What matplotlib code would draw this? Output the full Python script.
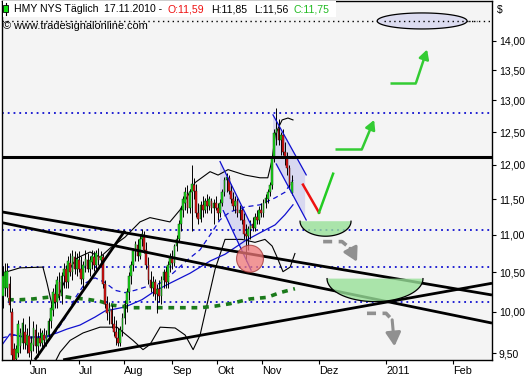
import numpy as np
import matplotlib
matplotlib.use("Agg")
import matplotlib.pyplot as plt
from matplotlib.patches import Polygon

# ---------------- data (bar index = trading day, prices in $) ----------------
opens = [10.20, 10.30, 10.30, 10.35, 10.00, 9.55, 9.43, 9.50, 9.58, 9.62,
         9.75, 9.60, 9.70, 9.52, 9.60, 9.78, 9.58, 9.68, 9.62, 9.72,
         9.64, 9.72, 9.88, 10.02, 10.22, 10.12, 10.38, 10.20, 10.45, 10.55,
         10.38, 10.62, 10.50, 10.70, 10.55, 10.66, 10.55, 10.42, 10.58, 10.66,
         10.55, 10.64, 10.70, 10.60, 10.72, 10.66, 10.70, 10.35, 10.10, 10.00,
         10.02, 9.85, 9.75, 9.68, 9.62, 9.78, 9.92, 10.10, 10.25, 10.45,
         10.60, 10.78, 10.86, 10.72, 10.95, 11.00, 10.80, 10.60, 10.40, 10.30,
         10.38, 10.22, 10.28, 10.20, 10.40, 10.50, 10.38, 10.60, 10.68, 10.62,
         10.85, 10.95, 11.15, 11.35, 11.45, 11.58, 11.38, 11.60, 11.70, 11.62,
         11.30, 11.22, 11.42, 11.35, 11.48, 11.40, 11.48, 11.38, 11.45, 11.38,
         11.30, 11.45, 11.60, 11.78, 11.80, 11.62, 11.50, 11.40, 11.48, 11.30,
         11.35, 11.20, 11.02, 10.98, 11.08, 11.15, 11.10, 11.25, 11.20, 11.35,
         11.30, 11.45, 11.50, 11.60, 11.70, 12.10, 12.48, 12.55, 12.38, 12.45,
         12.20, 12.10, 11.95, 11.59]
highs = [10.58, 10.62, 10.62, 10.45, 10.05, 9.62, 9.60, 9.90, 9.80, 9.92,
         9.85, 9.80, 9.95, 9.70, 9.88, 9.85, 9.75, 9.80, 9.78, 9.80,
         9.78, 9.92, 10.10, 10.30, 10.35, 10.45, 10.50, 10.50, 10.62, 10.60,
         10.72, 10.75, 10.80, 10.78, 10.75, 10.78, 10.72, 10.65, 10.80, 10.75,
         10.72, 10.80, 10.78, 10.80, 10.82, 10.78, 10.74, 10.40, 10.20, 10.12,
         10.08, 9.95, 9.90, 9.80, 9.82, 9.98, 10.15, 10.30, 10.50, 10.65,
         10.82, 10.92, 10.95, 11.00, 11.08, 11.06, 10.90, 10.70, 10.52, 10.45,
         10.42, 10.35, 10.40, 10.45, 10.55, 10.58, 10.65, 10.75, 10.80, 10.88,
         11.00, 11.20, 11.40, 11.55, 11.68, 11.70, 11.65, 12.00, 11.80, 11.72,
         11.45, 11.48, 11.55, 11.52, 11.58, 11.55, 11.52, 11.50, 11.55, 11.45,
         11.50, 11.65, 11.82, 11.88, 11.85, 11.72, 11.60, 11.55, 11.52, 11.42,
         11.40, 11.30, 11.15, 11.12, 11.20, 11.25, 11.30, 11.35, 11.40, 11.45,
         11.50, 11.58, 11.65, 11.75, 12.15, 12.55, 12.88, 12.70, 12.50, 12.55,
         12.35, 12.20, 12.00, 11.85]
lows = [10.05, 10.20, 10.18, 10.00, 9.40, 9.35, 9.38, 9.45, 9.50, 9.55,
        9.55, 9.50, 9.45, 9.40, 9.52, 9.50, 9.45, 9.58, 9.55, 9.60,
        9.58, 9.65, 9.80, 9.95, 10.05, 10.05, 10.15, 10.10, 10.30, 10.30,
        10.30, 10.45, 10.40, 10.48, 10.45, 10.50, 10.35, 10.30, 10.50, 10.50,
        10.45, 10.55, 10.52, 10.55, 10.60, 10.58, 10.30, 10.05, 9.90, 9.85,
        9.80, 9.70, 9.60, 9.58, 9.58, 9.70, 9.85, 10.00, 10.15, 10.35,
        10.52, 10.65, 10.65, 10.68, 10.85, 10.75, 10.55, 10.35, 10.25, 10.20,
        10.15, 9.98, 10.12, 10.10, 10.30, 10.30, 10.30, 10.50, 10.55, 10.58,
        10.78, 10.90, 11.05, 11.25, 11.35, 11.30, 11.30, 11.05, 11.50, 11.25,
        11.15, 11.18, 11.25, 11.30, 11.30, 11.35, 11.30, 11.15, 11.35, 11.20,
        11.25, 11.40, 11.55, 11.60, 11.58, 11.45, 11.35, 11.30, 11.25, 11.20,
        11.15, 10.95, 10.65, 10.80, 10.95, 11.05, 11.05, 11.15, 11.15, 11.25,
        11.25, 11.38, 11.45, 11.55, 11.65, 12.05, 12.30, 12.30, 12.15, 12.15,
        12.00, 11.85, 11.65, 11.56]
closes = [10.45, 10.50, 10.52, 10.08, 9.48, 9.42, 9.55, 9.85, 9.74, 9.86,
          9.62, 9.72, 9.50, 9.62, 9.80, 9.58, 9.68, 9.62, 9.74, 9.65,
          9.72, 9.88, 10.05, 10.25, 10.12, 10.40, 10.20, 10.45, 10.55, 10.38,
          10.65, 10.50, 10.72, 10.55, 10.68, 10.55, 10.42, 10.60, 10.68, 10.55,
          10.66, 10.72, 10.60, 10.75, 10.66, 10.72, 10.35, 10.10, 9.98, 10.05,
          9.85, 9.75, 9.68, 9.62, 9.78, 9.92, 10.10, 10.25, 10.45, 10.60,
          10.78, 10.88, 10.72, 10.95, 11.02, 10.80, 10.60, 10.40, 10.30, 10.38,
          10.22, 10.28, 10.20, 10.40, 10.50, 10.38, 10.60, 10.70, 10.62, 10.85,
          10.95, 11.15, 11.35, 11.50, 11.60, 11.38, 11.60, 11.72, 11.62, 11.30,
          11.22, 11.42, 11.35, 11.48, 11.40, 11.50, 11.38, 11.45, 11.38, 11.30,
          11.45, 11.60, 11.78, 11.82, 11.62, 11.50, 11.40, 11.48, 11.30, 11.35,
          11.20, 11.02, 10.98, 11.08, 11.15, 11.10, 11.25, 11.20, 11.35, 11.30,
          11.45, 11.52, 11.60, 11.70, 12.10, 12.48, 12.55, 12.38, 12.45, 12.20,
          12.10, 11.95, 11.70, 11.75]

# indicator lines: (bar index, price)
bb_upper_x = [-0.5, 7.8, 18.4, 20.3, 22.6, 24.9, 30.9, 34.1, 40.1, 44.7, 49.3, 56.2, 63.1, 67.7,
              76.9, 81.6, 85.3, 88.5, 95.4, 99.1, 103.7, 111.5, 118.4, 122, 124, 125.4, 128.6, 131.3, 133.6]
bb_upper_p = [10.49, 10.56, 10.57, 10.36, 10.08, 10.15, 10.56, 10.69, 10.77, 10.70, 10.82, 10.97, 11.18, 11.24,
              11.18, 11.35, 11.56, 11.74, 11.90, 11.85, 11.93, 11.85, 11.81, 11.81, 12.08, 12.46, 12.69, 12.72, 12.69]
bb_lower_x = [21.7, 26.3, 30.9, 36.9, 44.7, 52.5, 59.9, 64.5, 67.7, 72.4, 79.3, 83.9, 87.6, 90.8,
              94.5, 97.7, 102.3, 110.1, 116.1, 120.7, 124, 126.3, 129, 132.3, 134.5]
bb_lower_p = [9.28, 9.51, 9.65, 9.74, 9.81, 9.81, 9.65, 9.54, 9.60, 9.81, 9.80, 9.715, 9.54, 9.715,
              10.15, 10.54, 10.94, 10.94, 10.90, 10.94, 10.85, 10.70, 10.51, 10.57, 10.75]
bb_mid_x = [-0.5, 5.5, 12.4, 19.4, 24, 28.6, 33.2, 37.8, 42.4, 47, 51.6, 56.2, 60.8, 65.4, 70,
            72.4, 78.3, 84.8, 90.8, 95.4, 100, 104.6, 111.5, 118.4, 125.4, 129.9, 133.6]
bb_mid_p = [9.68, 9.715, 9.68, 9.68, 9.74, 9.92, 10.17, 10.36, 10.43, 10.37, 10.27, 10.24, 10.27, 10.31, 10.34,
            10.36, 10.49, 10.66, 10.80, 11.00, 11.21, 11.32, 11.39, 11.42, 11.52, 11.60, 11.78]
ma50_x = [-0.5, 3.2, 9.2, 15.7, 20.3, 24.9, 29.5, 35.5, 42.4, 47, 56.2, 64, 70, 76.9, 86.2,
          95.4, 102.3, 111.5, 118.4, 125.4, 129.9, 133.6]
ma50_p = [9.595, 9.727, 9.691, 9.691, 9.703, 9.740, 9.787, 9.836, 9.934, 10.009, 10.059, 10.15, 10.26,
          10.36, 10.49, 10.65, 10.74, 10.92, 11.03, 11.14, 11.28, 11.42]
ma200_x = [2.3, 7.8, 13.8, 20.3, 26.3, 32.3, 37.8, 44.7, 50.7, 59.9, 72.4, 84.8, 90.8, 97.7,
           104.6, 113.8, 121.7, 127.6, 134.5]
ma200_p = [10.15, 10.15, 10.16, 10.18, 10.20, 10.17, 10.16, 10.13, 10.08, 10.05, 10.05, 10.05, 10.05, 10.07,
           10.10, 10.16, 10.18, 10.24, 10.29]

# drawn objects
h_levels = [12.80, 11.07, 10.57, 10.12]        # blue dotted horizontals
top_level = 14.35                              # black dotted horizontal
resistance = 12.12                             # thick horizontal line
trend_lines = [((-0.5, 11.32), (225.3, 10.21)),
               ((-0.5, 11.17), (225.3, 9.86)),
               ((27.7, 9.42), (225.3, 10.36)),
               ((14.7, 9.42), (56.2, 11.06))]
# regression channels: upper line start, upper line end, log-width
channels = [((100.0, 12.05), (113.8, 11.18), 0.056),
            ((124.4, 12.77), (139.2, 11.90), 0.056)]

month_pos = [12.44, 35.0, 55.8, 77.9, 98.6, 119.4, 145.6, 176.5, 207.4]
month_lbl = ["Jun", "Jul", "Aug", "Sep", "Okt", "Nov", "Dez", "2011", "Feb"]
y_ticks = [9.5, 10.0, 10.5, 11.0, 11.5, 12.0, 12.5, 13.0, 13.5, 14.0]

# ---------------- figure ----------------
W, H = 531, 380
fig = plt.figure(figsize=(W / 100, H / 100), dpi=100)
fig.patch.set_facecolor("white")
ax = fig.add_axes([2 / W, 20 / H, 490 / W, 359 / H])
ax.set_facecolor("#f4f4f4")
ax.set_yscale("log")
ax.set_xlim(-0.46, 225.3)
ax.set_ylim(9.418, 14.71)

LN = 0.001243  # log-price per pixel


def ell(cx, cp, a, b, t0, t1, n=80):
    t = np.linspace(t0, t1, n)
    return cx + a * np.cos(t), cp * np.exp(b * np.sin(t))


# horizontal levels
for lv in h_levels:
    ax.axhline(lv, color="#1010d0", lw=1.3, ls=(0, (1, 2.2)), zorder=2)
ax.axhline(top_level, color="black", lw=1.0, ls=(0, (1, 2.5)), zorder=2)

# lavender channels
for (x0, p0), (x1, p1), w in channels:
    k = np.exp(-w)
    poly = Polygon([[x0, p0], [x1, p1], [x1, p1 * k], [x0, p0 * k]],
                   closed=True, facecolor="#d8d8f0", edgecolor="none", zorder=1.5)
    ax.add_patch(poly)
    ax.plot([x0, x1 + 0.5], [p0, p1 * np.exp(-0.004)], color="#1010d0", lw=0.9, zorder=4)
    ax.plot([x0 + 1.5, x1 + 0.5], [p0 * k * np.exp(-0.005), p1 * k * np.exp(-0.004)],
            color="#1010d0", lw=0.9, zorder=4)

# bands & averages
ax.plot(bb_upper_x, bb_upper_p, color="black", lw=0.8, zorder=2.5)
ax.plot(bb_lower_x, bb_lower_p, color="black", lw=0.8, zorder=2.5)
ax.plot(bb_mid_x, bb_mid_p, color="#1010d0", lw=0.9, ls=(0, (4, 3)), zorder=2.5)
ax.plot(ma50_x, ma50_p, color="#1010d0", lw=0.9, zorder=2.5)
ax.plot(ma200_x, ma200_p, color="#1a7a1a", lw=2.6, ls=(0, (1.6, 1.6)), zorder=2.5)

# candles
xs = np.arange(len(closes))
o = np.array(opens); c = np.array(closes)
up = c >= o
ax.vlines(xs, lows, highs, color="black", lw=0.7, zorder=3)
bot = np.minimum(o, c)
hgt = np.maximum(np.abs(c - o), 0.012)
ax.bar(xs[up], hgt[up], bottom=bot[up], width=0.78, color="#18e018",
       edgecolor="#104010", linewidth=0.35, zorder=3.2)
ax.bar(xs[~up], hgt[~up], bottom=bot[~up], width=0.78, color="#e01010",
       edgecolor="#401010", linewidth=0.35, zorder=3.2)

# trend lines
ax.axhline(resistance, color="black", lw=2.2, zorder=5)
for (x0, p0), (x1, p1) in trend_lines:
    ax.plot([x0, x1], [p0, p1], color="black", lw=2.0, zorder=5, solid_capstyle="butt")

# red circle
cx_, cy_ = ell(113.8, 10.68, 6.2, 13.5 * LN, 0, 2 * np.pi)
ax.fill(cx_, cy_, facecolor="#f07878", edgecolor="#a03030", lw=0.8, alpha=0.75, zorder=6)

# green bowls
for cx, cp, a, d in [(148.6, 11.19, 11.75, 15 * LN), (171.4, 10.42, 22.1, 23 * LN)]:
    bx, by = ell(cx, cp, a, d, np.pi, 2 * np.pi)
    ax.fill(bx, by, facecolor="#98e098", edgecolor="none", alpha=0.8, zorder=6)
    ax.plot(bx, by, color="black", lw=0.9, zorder=6.1)

# red / green projection
ax.plot([138.2, 145.6], [11.71, 11.31], color="#ee1111", lw=1.8, zorder=6)
ax.plot([145.6, 152.1], [11.31, 11.87], color="#22cc22", lw=1.8, zorder=6)

# green arrows
for (a0, tip, pl, pt) in [((153.0, 165.4), 171.0, 12.24, 12.69),
                          ((178.3, 190.3), 195.4, 13.29, 13.85)]:
    ax.plot([a0[0], a0[1]], [pl, pl], color="#33cc33", lw=1.8, zorder=6, solid_capstyle="butt")
    ax.annotate("", xy=(tip, pt), xytext=(a0[1], pl),
                arrowprops=dict(arrowstyle="-|>,head_length=0.55,head_width=0.3",
                                color="#33cc33", lw=1.8, shrinkA=0, shrinkB=0), zorder=6)

# grey dashed arrows
for pts, tip in [([(147.5, 10.91), (156.2, 10.91), (159.9, 10.82)], (163.1, 10.64)),
                 ([(167.7, 9.98), (176.5, 9.98), (179.3, 9.90)], (180.4, 9.58))]:
    px, py = zip(*pts)
    ax.plot(px, py, color="#909090", lw=2.6, ls=(0, (2.5, 1.8)), zorder=6)
    ax.annotate("", xy=tip, xytext=pts[-1],
                arrowprops=dict(arrowstyle="-|>,head_length=0.8,head_width=0.45",
                                color="#909090", lw=2.2, shrinkA=0, shrinkB=0), zorder=6)

# top ellipse
ex, ey = ell(193.1, 14.35, 20.7, 8 * LN, 0, 2 * np.pi)
ax.fill(ex, ey, facecolor="#dcdcf0", edgecolor="black", lw=0.9, zorder=6)
ax.axhline(top_level, xmin=0.78, xmax=0.97, color="black", lw=1.0, ls=(0, (1, 2.5)), zorder=6.5)

# axes styling
for s in ax.spines.values():
    s.set_color("black"); s.set_linewidth(1.0)
ax.yaxis.tick_right()
ax.set_yticks(y_ticks)
ax.set_yticklabels([f"{v:.2f}".replace(".", ",") for v in y_ticks])
ax.yaxis.set_minor_locator(matplotlib.ticker.NullLocator())
ax.set_xticks(month_pos)
ax.set_xticklabels(month_lbl, ha="left")
ax.tick_params(axis="y", direction="out", length=3, pad=2, labelsize=7.5, colors="black")
ax.tick_params(axis="x", direction="out", length=3, pad=1, labelsize=7.8, colors="black")
for lab in ax.get_yticklabels() + ax.get_xticklabels():
    lab.set_fontfamily("Liberation Sans")

# header
def fx(px): return px / W
def fy(py): return 1 - py / H

fig.patches.append(plt.Rectangle((fx(2.5), fy(17)), fx(336) - fx(2.5), fy(1.5) - fy(17),
                                 transform=fig.transFigure, facecolor="white", edgecolor="none", zorder=10))
fig.add_artist(plt.Line2D([fx(5.5), fx(5.5)], [fy(3), fy(15)], color="black", lw=0.8, zorder=11))
fig.patches.append(plt.Rectangle((fx(3), fy(12)), fx(5), fy(5) - fy(12), transform=fig.transFigure,
                                 facecolor="#10e010", edgecolor="black", lw=0.6, zorder=12))
hdr = [(14, "HMY NYS Täglich", "black"), (104, "17.11.2010 -", "black"), (168, "O:11,59", "#ee1111"),
       (211, "H:11,85", "black"), (254, "L:11,56", "black"), (293, "C:11,75", "#22bb22")]
for px, t, col in hdr:
    fig.text(fx(px), fy(9.5), t, color=col, fontsize=7.6, family="Liberation Sans",
             va="center", ha="left", zorder=13)
fig.text(fx(3), fy(26), "© www.tradesignalonline.com", fontsize=7.9, family="Liberation Sans",
         va="center", ha="left", zorder=13)
fig.text(fx(497), fy(10), "$", fontsize=7.5, family="Liberation Sans", va="center", ha="left")

fig.savefig("out.png", dpi=100)
